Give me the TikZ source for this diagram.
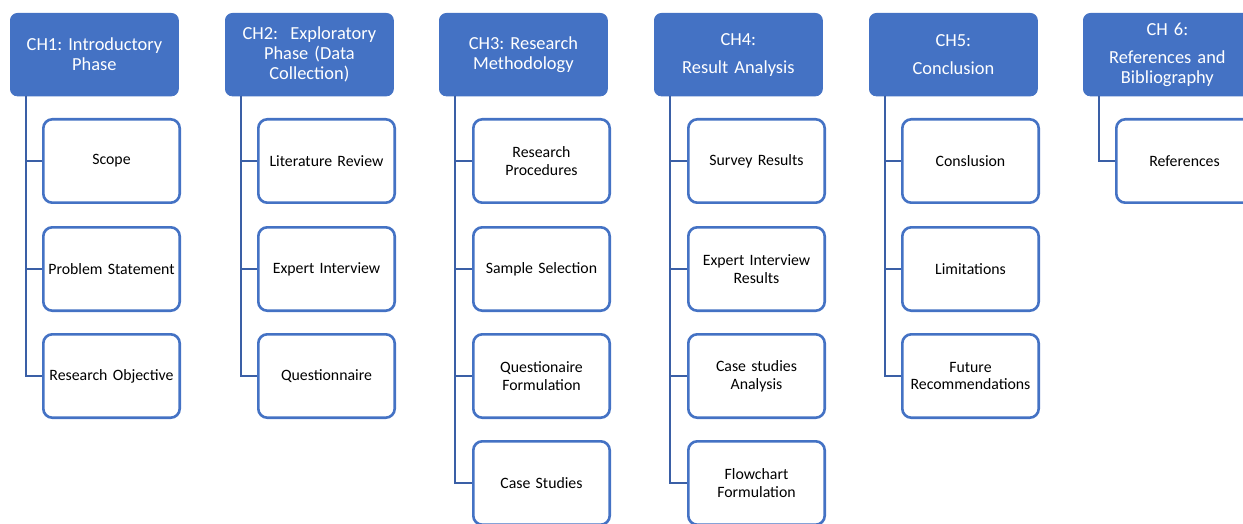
\documentclass[tikz,border=0pt]{standalone}
\usepackage{fontspec}
\setmainfont{Carlito}
\definecolor{accent}{HTML}{4472C4}
\definecolor{linkblue}{HTML}{3A5FA6}
\begin{document}
\frenchspacing
\begin{tikzpicture}[x=1pt,y=-1pt,
  chapter/.style={anchor=north west, fill=accent, draw=accent, line width=0.8pt,
    rounded corners=7pt, minimum width=168pt, minimum height=82.5pt, text width=164pt,
    align=center, text=white, inner sep=0pt, font=\fontsize{18.4}{20}\selectfont},
  topic/.style={anchor=north west, fill=white, draw=accent, line width=2.6pt,
    rounded corners=9pt, minimum width=136.4pt, minimum height=83.4pt, text width=134pt,
    align=center, text=black, inner sep=0pt, font=\fontsize{15.8}{17.8}\selectfont},
  conn/.style={draw=linkblue, line width=2.8pt}]
\useasboundingbox (0,0) rectangle (1243,524);
\clip (0,0) rectangle (1243,524);

% chapter headers
\node[chapter] (h1) at (10,13)   {CH1: Introductory\\Phase};
\node[chapter] (h2) at (225,13)  {CH2:\ \ Exploratory\\Phase (Data\\Collection)};
\node[chapter] (h3) at (439,13)  {CH3: Research\\Methodology};
\node[chapter] (h4) at (654,13)  {CH4:\\[8pt]Result Analysis};
\node[chapter] (h5) at (869,13)  {CH5:\\[8pt]Conclusion};
\node[chapter] (h6) at (1083,13) {CH 6:\\[8pt]References and\\Bibliography};

% topics of each chapter
\node[topic] (a1) at (42,118)  {Scope};
\node[topic] (a2) at (42,226)  {Problem Statement};
\node[topic] (a3) at (42,333)  {Research Objective};

\node[topic] (b1) at (257,118) {Literature Review};
\node[topic] (b2) at (257,226) {Expert Interview};
\node[topic] (b3) at (257,333) {Questionnaire};

\node[topic] (c1) at (472,118) {Research\\Procedures};
\node[topic] (c2) at (472,226) {Sample Selection};
\node[topic] (c3) at (472,333) {Questionaire\\Formulation};
\node[topic] (c4) at (472,440) {Case Studies};

\node[topic] (d1) at (687,118) {Survey Results};
\node[topic] (d2) at (687,226) {Expert Interview\\Results};
\node[topic] (d3) at (687,333) {Case studies\\Analysis};
\node[topic] (d4) at (687,440) {Flowchart\\Formulation};

\node[topic] (e1) at (901,118) {Conslusion};
\node[topic] (e2) at (901,226) {Limitations};
\node[topic] (e3) at (901,333) {Future\\Recommendations};

\node[topic] (f1) at (1115,118) {References};

% hierarchy connectors
\foreach \h/\list in {h1/{a1,a2,a3}, h2/{b1,b2,b3}, h3/{c1,c2,c3,c4},
                      h4/{d1,d2,d3,d4}, h5/{e1,e2,e3}, h6/{f1}} {
  \foreach \c in \list {
    \draw[conn] ([xshift=16pt,yshift=0.5pt]\h.south west) |- (\c.west);
  }
}
\end{tikzpicture}
\end{document}
